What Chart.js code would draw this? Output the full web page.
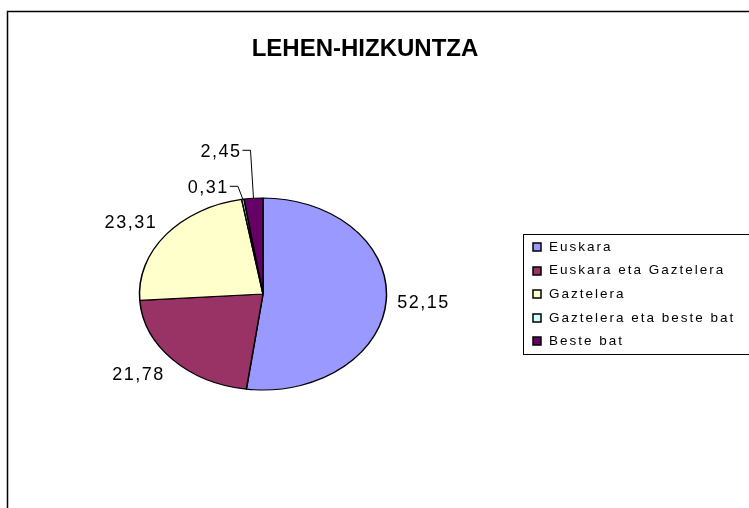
<!DOCTYPE html>
<html>
<head>
<meta charset="utf-8">
<script src="https://cdn.jsdelivr.net/npm/chart.js@4"></script>
<style>
    html, body { margin: 0; padding: 0; background: #fff; }
    #wrap { width: 749px; height: 508px; }
</style>
</head>
<body>
<div id="wrap"><canvas id="lehenChart" width="749" height="508"></canvas></div>
<script>
'use strict'

const chartTitle = 'LEHEN-HIZKUNTZA';
const languages = ['Euskara', 'Euskara eta Gaztelera', 'Gaztelera', 'Gaztelera eta beste bat', 'Beste bat'];
const percents = [52.15, 21.78, 23.31, 0.31, 2.45];
const sliceColors = ['#9999FF', '#993366', '#FFFFCC', '#CCFFFF', '#660066'];

const FONT = '"Liberation Sans", Arial, sans-serif';
// pie centre and the two radii of the (flattened) pie
const CX = 263, CY = 294, RX = 123.5, RY = 96;
const squash = RY / RX;

const fmt = v => v.toFixed(2).replace('.', ',');

// squeeze the round pie into an ellipse like the original
const ellipsePlugin = {
    id: 'ellipse',
    beforeDatasetsDraw(chart) {
        const ctx = chart.ctx;
        ctx.save();
        ctx.translate(0, CY);
        ctx.scale(1, squash);
        ctx.translate(0, -CY);
    },
    afterDatasetsDraw(chart) {
        chart.ctx.restore();
    }
};

// frame, title, legend and the value labels
const decorPlugin = {
    id: 'decor',
    beforeDraw(chart) {
        const ctx = chart.ctx;
        ctx.save();
        ctx.fillStyle = '#fff';
        ctx.fillRect(0, 0, chart.width, chart.height);
        ctx.strokeStyle = '#000';
        ctx.lineWidth = 1.5;
        ctx.beginPath();
        ctx.moveTo(7.5, chart.height);
        ctx.lineTo(7.5, 11.5);
        ctx.lineTo(chart.width, 11.5);
        ctx.stroke();
        ctx.restore();
    },
    afterDraw(chart) {
        const ctx = chart.ctx;
        ctx.save();

        // title
        ctx.fillStyle = '#000';
        ctx.font = 'bold 24px ' + FONT;
        ctx.textAlign = 'center';
        ctx.textBaseline = 'alphabetic';
        ctx.fillText(chartTitle, 365, 56);

        // value labels
        const arcs = chart.getDatasetMeta(0).data;
        ctx.font = '18px ' + FONT;
        ctx.letterSpacing = '1.5px';
        ctx.strokeStyle = '#000';
        ctx.lineWidth = 1;
        const leaders = { 3: { dx: -5, dy: -13 }, 4: { dx: -3, dy: -48 } };
        arcs.forEach((arc, i) => {
            const mid = (arc.startAngle + arc.endAngle) / 2;
            const ux = Math.cos(mid), uy = Math.sin(mid);
            const ex = arc.x + arc.outerRadius * ux;
            const ey = arc.y + arc.outerRadius * uy * squash;
            const text = fmt(percents[i]);
            const lead = leaders[i];
            if (lead) {
                const bx = ex + lead.dx, by = ey + lead.dy;
                ctx.beginPath();
                ctx.moveTo(ex, ey);
                ctx.lineTo(bx, by);
                ctx.lineTo(bx - 8, by);
                ctx.stroke();
                ctx.textAlign = 'right';
                ctx.fillText(text, bx - 9, by + 6.5);
                return;
            }
            const ax = ex + 11 * ux, ay = ey + 11 * uy;
            ctx.textAlign = ux < 0 ? 'right' : 'left';
            let base;
            if (Math.abs(uy) < 0.3) base = ay + 6.5;
            else if (uy > 0) base = ay + 13;
            else base = ay;
            ctx.fillText(text, ax, base);
        });

        // legend
        ctx.letterSpacing = '2px';
        ctx.font = '13.5px ' + FONT;
        ctx.textAlign = 'left';
        ctx.textBaseline = 'middle';
        ctx.lineWidth = 1;
        ctx.strokeRect(523.5, 234.5, 300, 120);
        languages.forEach((name, i) => {
            const y = 247 + i * 23.6;
            ctx.fillStyle = sliceColors[i];
            ctx.fillRect(533, Math.round(y) - 4, 8, 8);
            ctx.strokeStyle = '#000';
            ctx.lineWidth = 1.5;
            ctx.strokeRect(533, Math.round(y) - 4, 8, 8);
            ctx.fillStyle = '#000';
            ctx.fillText(name, 549, y);
        });
        ctx.restore();
    }
};

const canvas = document.querySelector('#lehenChart');
new Chart(canvas, {
    type: 'pie',
    data: {
        labels: languages,
        datasets: [
            {
                data: percents,
                backgroundColor: sliceColors,
                borderColor: '#000',
                borderWidth: 1.5,
                hoverOffset: 0
            }
        ]
    },
    options: {
        responsive: false,
        animation: false,
        events: [],
        radius: RX,
        layout: {
            padding: { left: CX - 130, right: 749 - (CX + 130), top: CY - 130, bottom: 508 - (CY + 130) }
        },
        plugins: {
            legend: { display: false },
            tooltip: { enabled: false },
            title: { display: false }
        }
    },
    plugins: [ellipsePlugin, decorPlugin]
});
</script>
</body>
</html>
